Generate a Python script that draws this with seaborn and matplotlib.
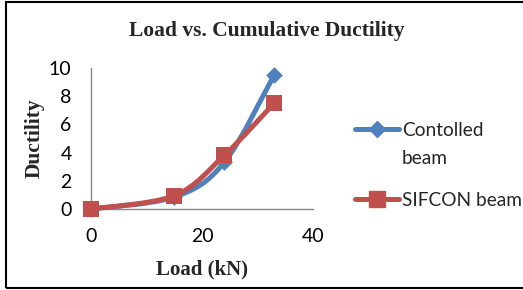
import numpy as np
import matplotlib
matplotlib.use('Agg')
import matplotlib.pyplot as plt
from matplotlib.path import Path
from matplotlib.patches import PathPatch, Rectangle
from matplotlib.lines import Line2D
import seaborn as sns

# Dati
load_kn = [0, 15, 24, 33]
ductility_controlled = [0, 0.85, 3.3, 9.5]
ductility_sifcon = [0, 0.95, 3.8, 7.5]

series_names = ['Contolled\nbeam', 'SIFCON beam']
x_ticks = [0, 20, 40]
y_ticks = [0, 2, 4, 6, 8, 10]

blue = '#4F81BD'
red = '#C0504D'

sns.set_theme(style='white')
plt.rcParams['font.family'] = ['Lato', 'DejaVu Sans']

fig = plt.figure(figsize=(5.23, 2.90), dpi=100)
ax = fig.add_axes([91 / 523, 1 - 209 / 290, (313 - 91) / 523, (209 - 68) / 290])


def smooth_path(x, y):
    # curva di Bezier stile Excel (Catmull-Rom) passante per i punti
    pts = np.column_stack([x, y]).astype(float)
    n = len(pts)
    verts = [pts[0]]
    codes = [Path.MOVETO]
    for i in range(n - 1):
        p0 = pts[max(i - 1, 0)]
        p1 = pts[i]
        p2 = pts[i + 1]
        p3 = pts[min(i + 2, n - 1)]
        c1 = p1 + (p2 - p0) / 6
        c2 = p2 - (p3 - p1) / 6
        verts += [c1, c2, p2]
        codes += [Path.CURVE4] * 3
    return Path(verts, codes)


for yvals, col, marker, ms in [(ductility_controlled, blue, 'D', 8.5),
                               (ductility_sifcon, red, 's', 12)]:
    ax.add_patch(PathPatch(smooth_path(load_kn, yvals), fill=False,
                           edgecolor=col, lw=3.6, capstyle='round',
                           joinstyle='round', clip_on=False, zorder=3))
    sns.scatterplot(x=load_kn, y=yvals, ax=ax, marker=marker, s=ms ** 2,
                    color=col, edgecolor=col, linewidth=0, clip_on=False,
                    zorder=4)

ax.set_xlim(0, 40)
ax.set_ylim(0, 10)
ax.set_xticks(x_ticks)
ax.set_yticks(y_ticks)
ax.tick_params(axis='both', length=0, labelsize=14, colors='black')
ax.tick_params(axis='y', pad=14)
ax.tick_params(axis='x', pad=14)
for s in ['top', 'right']:
    ax.spines[s].set_visible(False)
for s in ['left', 'bottom']:
    ax.spines[s].set_color('#868686')
    ax.spines[s].set_linewidth(1)

ax.set_xlabel('Load (kN)', family='Liberation Serif', fontweight='bold',
              fontsize=15, labelpad=10)
ax.set_ylabel('Ductility', family='Liberation Serif', fontweight='bold',
              fontsize=15.5, labelpad=3)
fig.text(267 / 523, 1 - 31 / 290, 'Load vs. Cumulative Ductility',
         family='Liberation Serif', fontweight='bold', fontsize=15.5,
         ha='center', va='center')

handles = [Line2D([], [], color=blue, lw=3.6, marker='D', markersize=8.5),
           Line2D([], [], color=red, lw=3.6, marker='s', markersize=12)]
leg = fig.legend(handles, series_names, loc='upper left',
                 bbox_to_anchor=(355 / 523, 1 - 122 / 290), frameon=False,
                 fontsize=13.8, handlelength=2.3, handletextpad=0.15,
                 borderpad=0, borderaxespad=0, labelspacing=1.3)
for t in leg.get_texts():
    t.set_linespacing(1.8)
# maniglia allineata alla prima riga del testo, come in Excel
for col_box in leg._legend_handle_box.get_children():
    for row in col_box.get_children():
        row.align = 'top'

fig.patches.append(Rectangle((6 / 523, 2 / 290), 1.0, 286 / 290,
                             transform=fig.transFigure, fill=False,
                             edgecolor='black', lw=1.5))

fig.savefig('out.png', dpi=100)
